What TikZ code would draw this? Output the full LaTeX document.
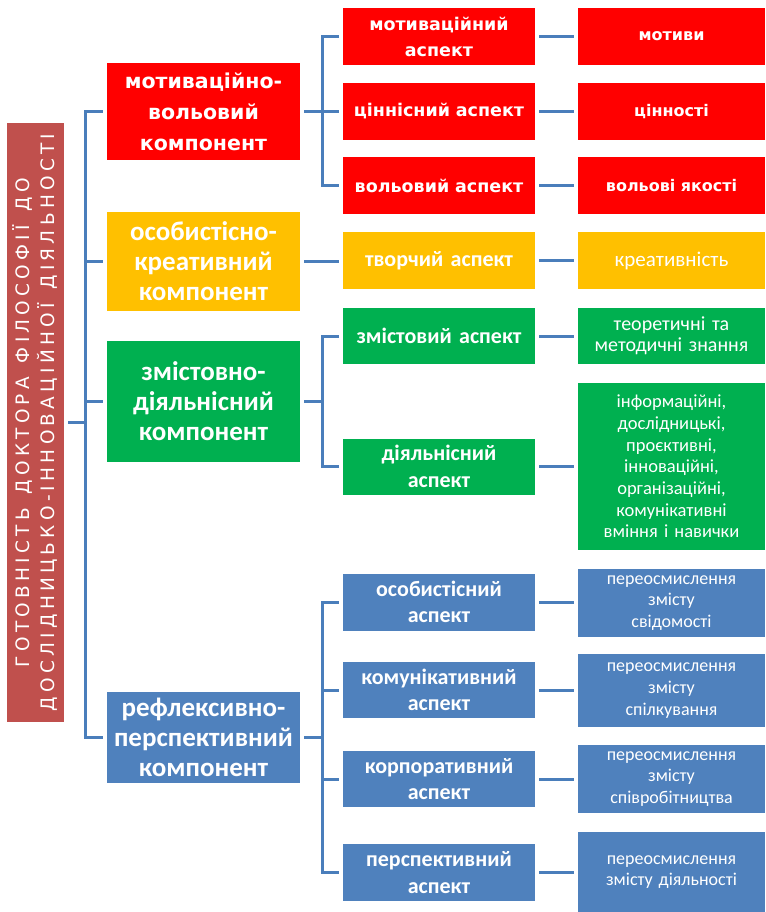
\documentclass[tikz,border=0pt]{standalone}
\usepackage{fontspec}
\usepackage{xcolor}
\setmainfont{Carlito}
\newfontfamily\vfont{DejaVu Sans}
\newfontfamily\rootfont{DejaVu Sans}[LetterSpace=23]
\usetikzlibrary{positioning}
\definecolor{rootred}{HTML}{C0504D}
\definecolor{compred}{HTML}{FF0000}
\definecolor{compyellow}{HTML}{FFC000}
\definecolor{compgreen}{HTML}{00B050}
\definecolor{compblue}{HTML}{4F81BD}
\definecolor{linkblue}{HTML}{4A7EBB}
\newcommand{\wgap}{\hspace{0.75em}}

\begin{document}
\begin{tikzpicture}[%
        x=1pt, y=-1pt,
        box/.style={ draw=none, inner sep=1pt, align=center, text=white },%
        comp/.style={ box, minimum width=193pt, text width=191pt, font=\fontsize{27}{30}\selectfont\bfseries },%
        compv/.style={ comp, font=\vfont\fontsize{20.5}{31}\selectfont\bfseries },%
        asp/.style={ box, minimum width=192pt, minimum height=57pt, text width=190pt, font=\fontsize{22}{26.5}\selectfont\bfseries },%
        aspv/.style={ asp, font=\vfont\fontsize{17.5}{26}\selectfont\bfseries },%
        res/.style={ box, minimum width=187pt, text width=185pt, font=\fontsize{18}{21.7}\selectfont },%
        resv/.style={ res, font=\vfont\fontsize{16}{21}\selectfont\bfseries },%
        link/.style={ line width=3pt, draw=linkblue, shorten >=4pt, shorten <=4pt }%
      ]
      \useasboundingbox (0,0) rectangle (765,912);
      \node (root) at (35.5,422.5) [box, rotate=90, fill=rootred, minimum width=599pt, minimum height=57pt, text width=597pt, font=\rootfont\fontsize{18.5}{25}\selectfont]{ГОТОВНІСТЬ\wgap ДОКТОРА\wgap ФІЛОСОФІЇ\wgap ДО\\ДОСЛІДНИЦЬКО-ІННОВАЦІЙНОЇ\wgap ДІЯЛЬНОСТІ};

      \node (mv) at (203.5,111.5) [compv, fill=compred, minimum height=97pt]{мотиваційно-\\вольовий\\компонент};
      \node (ok) at (203.5,261.5) [comp, fill=compyellow, minimum height=99pt]{особистісно-\\креативний\\компонент};
      \node (zd) at (203.5,401) [comp, fill=compgreen, minimum height=121pt]{змістовно-\\діяльнісний\\компонент};
      \node (rp) at (203.5,737.5) [comp, fill=compblue, minimum height=91pt]{рефлексивно-\\перспективний\\компонент};

      \node (motasp) at (439,36.5) [aspv, fill=compred]{мотиваційний\\аспект};
      \node (cinasp) at (439,111.5) [aspv, fill=compred]{ціннісний аспект};
      \node (volasp) at (439,185.5) [aspv, fill=compred]{вольовий аспект};
      \node (tvorasp) at (439,260.5) [asp, fill=compyellow]{творчий аспект};
      \node (zmasp) at (439,336) [asp, fill=compgreen, minimum height=56pt]{змістовий аспект};
      \node (diyasp) at (439,466.5) [asp, fill=compgreen, minimum height=56pt]{діяльнісний\\аспект};
      \node (osasp) at (439,602) [asp, fill=compblue]{особистісний\\аспект};
      \node (komasp) at (439,690) [asp, fill=compblue, minimum height=56pt]{комунікативний\\аспект};
      \node (korpasp) at (439,779) [asp, fill=compblue, minimum height=56pt]{корпоративний\\аспект};
      \node (perspasp) at (439,872.5) [asp, fill=compblue]{перспективний\\аспект};

      \node (motyvy) at (671.5,36.5) [resv, fill=compred, minimum height=57pt]{мотиви};
      \node (cinnosti) at (671.5,111.5) [resv, fill=compred, minimum height=57pt]{цінності};
      \node (yakosti) at (671.5,185.5) [resv, fill=compred, minimum height=57pt]{вольові якості};
      \node (kreat) at (671.5,260.5) [res, fill=compyellow, minimum height=57pt, font=\fontsize{21}{24}\selectfont]{креативність};
      \node (znannia) at (671.5,336) [res, fill=compgreen, minimum height=56pt, font=\fontsize{20}{21}\selectfont]{теоретичні та\\методичні знання};
      \node (vminnia) at (671.5,466.5) [res, fill=compgreen, minimum height=167pt, font=\fontsize{18.5}{21.7}\selectfont]{інформаційні,\\дослідницькі,\\проєктивні,\\інноваційні,\\організаційні,\\комунікативні\\вміння і навички};
      \node (svid) at (671.5,603) [res, fill=compblue, minimum height=68pt]{переосмислення\\змісту\\свідомості};
      \node (spilk) at (671.5,690.5) [res, fill=compblue, minimum height=73pt]{переосмислення\\змісту\\спілкування};
      \node (spivr) at (671.5,779) [res, fill=compblue, minimum height=68pt]{переосмислення\\змісту\\співробітництва};
      \node (diyal) at (671.5,872) [res, fill=compblue, minimum height=80pt]{переосмислення\\змісту діяльності};

      \coordinate (trunk) at (85,0);
      \coordinate (fork) at (322,0);

      \draw [link] (root.south) -- (root.south -| trunk) |- (mv.west);
      \draw [link] (root.south) -- (root.south -| trunk) |- (ok.west);
      \draw [link] (root.south) -- (root.south -| trunk) |- (zd.west);
      \draw [link] (root.south) -- (root.south -| trunk) |- (rp.west);

      \draw [link] (mv.east) -- (mv.east -| fork) |- (motasp.west);
      \draw [link] (mv.east) -- (mv.east -| fork) |- (cinasp.west);
      \draw [link] (mv.east) -- (mv.east -| fork) |- (volasp.west);
      \draw [link] (ok.east) -- (ok.east -| tvorasp.west);
      \draw [link] (zd.east) -- (zd.east -| fork) |- (zmasp.west);
      \draw [link] (zd.east) -- (zd.east -| fork) |- (diyasp.west);
      \draw [link] (rp.east) -- (rp.east -| fork) |- (osasp.west);
      \draw [link] (rp.east) -- (rp.east -| fork) |- (komasp.west);
      \draw [link] (rp.east) -- (rp.east -| fork) |- (korpasp.west);
      \draw [link] (rp.east) -- (rp.east -| fork) |- (perspasp.west);

      \draw [link] (motasp.east) -- (motasp.east -| motyvy.west);
      \draw [link] (cinasp.east) -- (cinasp.east -| cinnosti.west);
      \draw [link] (volasp.east) -- (volasp.east -| yakosti.west);
      \draw [link] (tvorasp.east) -- (tvorasp.east -| kreat.west);
      \draw [link] (zmasp.east) -- (zmasp.east -| znannia.west);
      \draw [link] (diyasp.east) -- (diyasp.east -| vminnia.west);
      \draw [link] (osasp.east) -- (osasp.east -| svid.west);
      \draw [link] (komasp.east) -- (komasp.east -| spilk.west);
      \draw [link] (korpasp.east) -- (korpasp.east -| spivr.west);
      \draw [link] (perspasp.east) -- (perspasp.east -| diyal.west);
    \end{tikzpicture}
\end{document}
